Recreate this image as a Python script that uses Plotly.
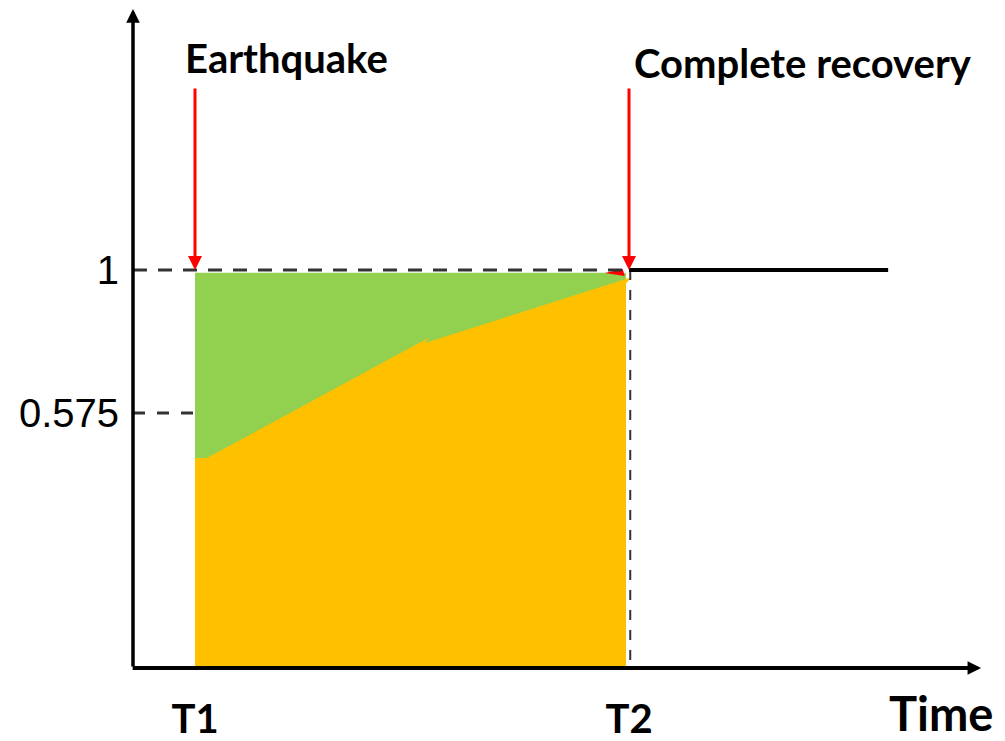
import plotly.graph_objects as go

# ---------------- data (schematic resilience curve) ----------------
T1 = 1.0
T2 = 8.0
full_level = 1.0
ref_level = 0.575

# orange area: recovered functionality (top edge)
orange_t = [1.0, 1.0, 1.19, 4.76, 4.71, 8.05, 7.95, 7.95]
orange_v = [None, 0.441, 0.441, 0.798, 0.783, 0.979, 0.96, None]

# green area: lost functionality (top edge)
green_t = [1.0, 1.0, 7.95, 7.95]
green_v = [None, 0.992, 0.992, None]

# small red wedge near the recovery arrow head
wedge_t = [7.61, 7.90, 7.93]
wedge_v = [0.991, 1.003, 0.982]

# level line segments
dash1_t = [0.0, 8.0]
dash1_v = [1.0, 1.0]
solid_t = [8.0, 12.18]
solid_v = [1.0, 1.0]
dash2_t = [0.0, 1.0]
dash2_v = [0.575, 0.575]
vdash_t = [8.02, 8.02]

y_ticks = [1.0, 0.575]
y_ticktext = ["1", "0.575"]
x_ticks = [1.0, 8.0]
x_ticktext = ["T1", "T2"]

events = ["Earthquake", "Complete recovery"]
event_t = [T1, T2]

# ---------------- layout constants ----------------
Y_BASE = -0.18276      # where the time axis sits
Y_TOP = 1.7756         # tip of the vertical axis arrow
X_END = 13.68          # tip of the horizontal axis arrow
ARROW_TAIL = 1.544     # top of the red arrows

X_RANGE = [-0.2097, 14.0645]
Y_RANGE = [-0.21842, 1.7786]

GREEN = "#92D050"
ORANGE = "#FFC000"
RED = "#FF0000"
DARK = "#333333"

def fill_base(v):
    return [Y_BASE if x is None else x for x in v]

fig = go.Figure()

fig.add_trace(go.Scatter(x=green_t, y=fill_base(green_v), fill="toself",
                         fillcolor=GREEN, mode="lines", line=dict(width=0),
                         hoverinfo="skip", showlegend=False))
fig.add_trace(go.Scatter(x=orange_t, y=fill_base(orange_v), fill="toself",
                         fillcolor=ORANGE, mode="lines", line=dict(width=0),
                         hoverinfo="skip", showlegend=False))
fig.add_trace(go.Scatter(x=wedge_t, y=wedge_v, fill="toself",
                         fillcolor=RED, mode="lines", line=dict(width=0),
                         hoverinfo="skip", showlegend=False))

fig.add_trace(go.Scatter(x=dash1_t, y=dash1_v, mode="lines",
                         line=dict(color=DARK, width=3, dash="14px,11px"),
                         hoverinfo="skip", showlegend=False))
fig.add_trace(go.Scatter(x=dash2_t, y=dash2_v, mode="lines",
                         line=dict(color=DARK, width=3, dash="12px,12px"),
                         hoverinfo="skip", showlegend=False))
fig.add_trace(go.Scatter(x=vdash_t, y=[full_level, Y_BASE], mode="lines",
                         line=dict(color=DARK, width=2, dash="10px,10px"),
                         hoverinfo="skip", showlegend=False))
fig.add_trace(go.Scatter(x=solid_t, y=solid_v, mode="lines",
                         line=dict(color="black", width=4),
                         hoverinfo="skip", showlegend=False))

annotations = []
# axes with arrow heads
annotations.append(dict(x=0, y=Y_TOP, ax=0, ay=Y_BASE, xref="x", yref="y",
                        axref="x", ayref="y", text="", showarrow=True,
                        arrowhead=2, arrowsize=0.78, arrowwidth=3.5,
                        arrowcolor="black"))
annotations.append(dict(x=X_END, y=Y_BASE, ax=-0.03, ay=Y_BASE, xref="x", yref="y",
                        axref="x", ayref="y", text="", showarrow=True,
                        arrowhead=2, arrowsize=0.68, arrowwidth=4,
                        arrowcolor="black"))
# red event arrows
for t in event_t:
    annotations.append(dict(x=t, y=full_level, ax=t, ay=ARROW_TAIL, xref="x", yref="y",
                            axref="x", ayref="y", text="", showarrow=True,
                            arrowhead=2, arrowsize=0.93, arrowwidth=3,
                            arrowcolor=RED))
# event labels
label_font = dict(family="Lato", size=40, color="black", weight="bold")
annotations.append(dict(x=2.476, y=1.63, xref="x", yref="y", text=events[0],
                        showarrow=False, font=label_font,
                        xanchor="center", yanchor="middle"))
annotations.append(dict(x=10.81, y=1.615, xref="x", yref="y", text=events[1],
                        showarrow=False, font=label_font,
                        xanchor="center", yanchor="middle"))
# axis title
annotations.append(dict(x=13.03, y=-0.0491, xref="x", yref="paper", text="Time",
                        showarrow=False,
                        font=dict(family="Lato", size=47, color="black", weight="bold"),
                        xanchor="center", yanchor="middle"))

fig.update_layout(
    width=997, height=733,
    margin=dict(l=112, r=0, t=0, b=61, pad=0),
    paper_bgcolor="white", plot_bgcolor="white",
    annotations=annotations,
    xaxis=dict(range=X_RANGE, showgrid=False, zeroline=False, showline=False,
               tickmode="array", tickvals=x_ticks, ticktext=x_ticktext,
               ticks="", ticklabelstandoff=12,
               tickfont=dict(family="Lato", size=40, color="black", weight="bold")),
    yaxis=dict(range=Y_RANGE, showgrid=False, zeroline=False, showline=False,
               tickmode="array", tickvals=y_ticks, ticktext=y_ticktext,
               ticks="", ticklabelstandoff=0,
               tickfont=dict(family="Liberation Sans", size=40, color="black")),
)

fig.write_html("out.html")
